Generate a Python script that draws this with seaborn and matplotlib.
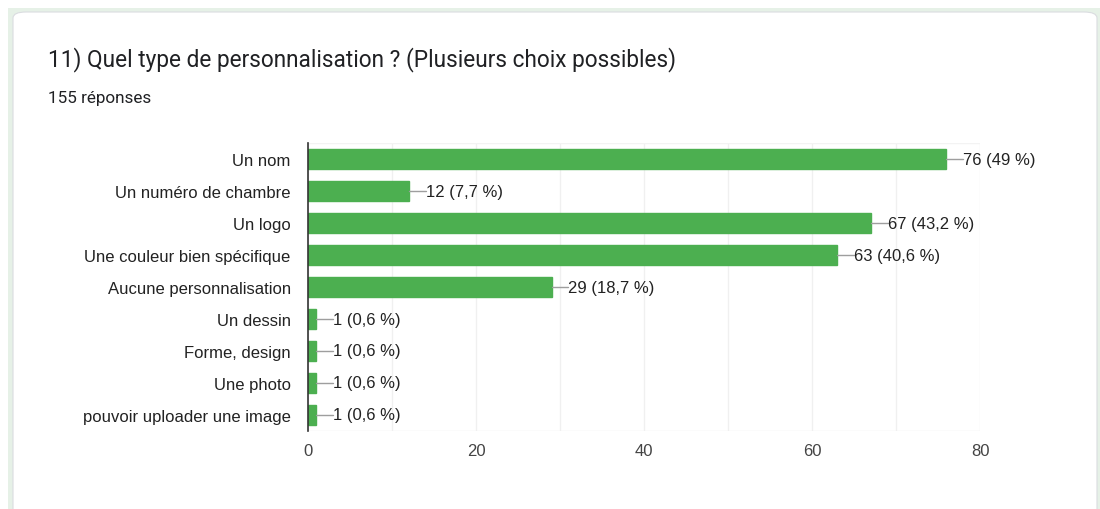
import matplotlib
matplotlib.use("Agg")
import matplotlib.pyplot as plt
from matplotlib.patches import FancyBboxPatch, Rectangle
import seaborn as sns
import pandas as pd

title = "11) Quel type de personnalisation ? (Plusieurs choix possibles)"
subtitle = "155 réponses"
categories = ["Un nom", "Un numéro de chambre", "Un logo", "Une couleur bien spécifique",
              "Aucune personnalisation", "Un dessin", "Forme, design", "Une photo",
              "pouvoir uploader une image"]
counts = [76, 12, 67, 63, 29, 1, 1, 1, 1]
labels = ["76 (49 %)", "12 (7,7 %)", "67 (43,2 %)", "63 (40,6 %)", "29 (18,7 %)",
          "1 (0,6 %)", "1 (0,6 %)", "1 (0,6 %)", "1 (0,6 %)"]
xticks = [0, 20, 40, 60, 80]

sns.set_theme(style="white")
plt.rcParams['font.family'] = ['Liberation Sans', 'DejaVu Sans']

fig = plt.figure(figsize=(11, 5.1), dpi=100)
fig.patch.set_facecolor("white")
# outer light green band
fig.patches.append(Rectangle((8/1100, 0), 1 - 8/1100, 1 - 9/510, transform=fig.transFigure,
                             facecolor="#e6f1e7", edgecolor="none", zorder=-3))
# white card
fig.patches.append(FancyBboxPatch((13/1100, -0.05), (1097-13)/1100, (510-13)/510 + 0.05,
                                  boxstyle="round,pad=0,rounding_size=0.012",
                                  transform=fig.transFigure, facecolor="white",
                                  edgecolor="#dadce0", linewidth=0.8, zorder=-2,
                                  mutation_aspect=510/1100*2.1))

fig.text(48/1100, 1 - 60/510, title, fontsize=16.3, family=['Roboto', 'DejaVu Sans'],
         color="#202124", va="center", ha="left")
fig.text(48/1100, 1 - 99/510, subtitle, fontsize=12.3, family=['Roboto', 'DejaVu Sans'],
         color="#202124", va="center", ha="left")

ax = fig.add_axes([308/1100, 1 - 432/510, (980-308)/1100, (432-144)/510])
ax.set_zorder(2)
ax.set_facecolor("none")
df = pd.DataFrame({"cat": categories, "n": counts})
sns.barplot(data=df, x="n", y="cat", orient="h", color="#4caf50", saturation=1,
            width=0.62, ax=ax, zorder=3)
for p in ax.patches:
    p.set_edgecolor("#4caf50")

ax.set_xlim(0, 80)
ax.set_ylim(8.5, -0.5)
ax.set_xticks(xticks)
ax.set_xticks(range(0, 81, 10), minor=True)
ax.grid(True, axis="x", which="both", color="#f0f0f0", linewidth=1, zorder=0)
ax.set_xlabel("")
ax.set_ylabel("")
for s in ["top", "right", "bottom"]:
    ax.spines[s].set_visible(False)
ax.spines["left"].set_color("#333333")
ax.spines["left"].set_linewidth(1.2)
ax.spines["left"].set_zorder(5)
ax.axhline(8.5, color="#eeeeee", linewidth=1, zorder=1)
ax.axhline(-0.5, color="#f3f3f3", linewidth=1, zorder=1)
ax.tick_params(axis="y", length=0, pad=12.5, labelsize=12, labelcolor="#222222")
ax.tick_params(axis="x", length=0, pad=9, labelsize=12, labelcolor="#444444")

for i, (v, lab) in enumerate(zip(counts, labels)):
    ax.plot([v, v + 2.0], [i, i], color="#9e9e9e", linewidth=1, zorder=4, clip_on=False)
    ax.text(v + 2.0, i, lab, va="center", ha="left", fontsize=12, color="#222222",
            zorder=5, clip_on=False)

fig.savefig("out.png", dpi=100)
